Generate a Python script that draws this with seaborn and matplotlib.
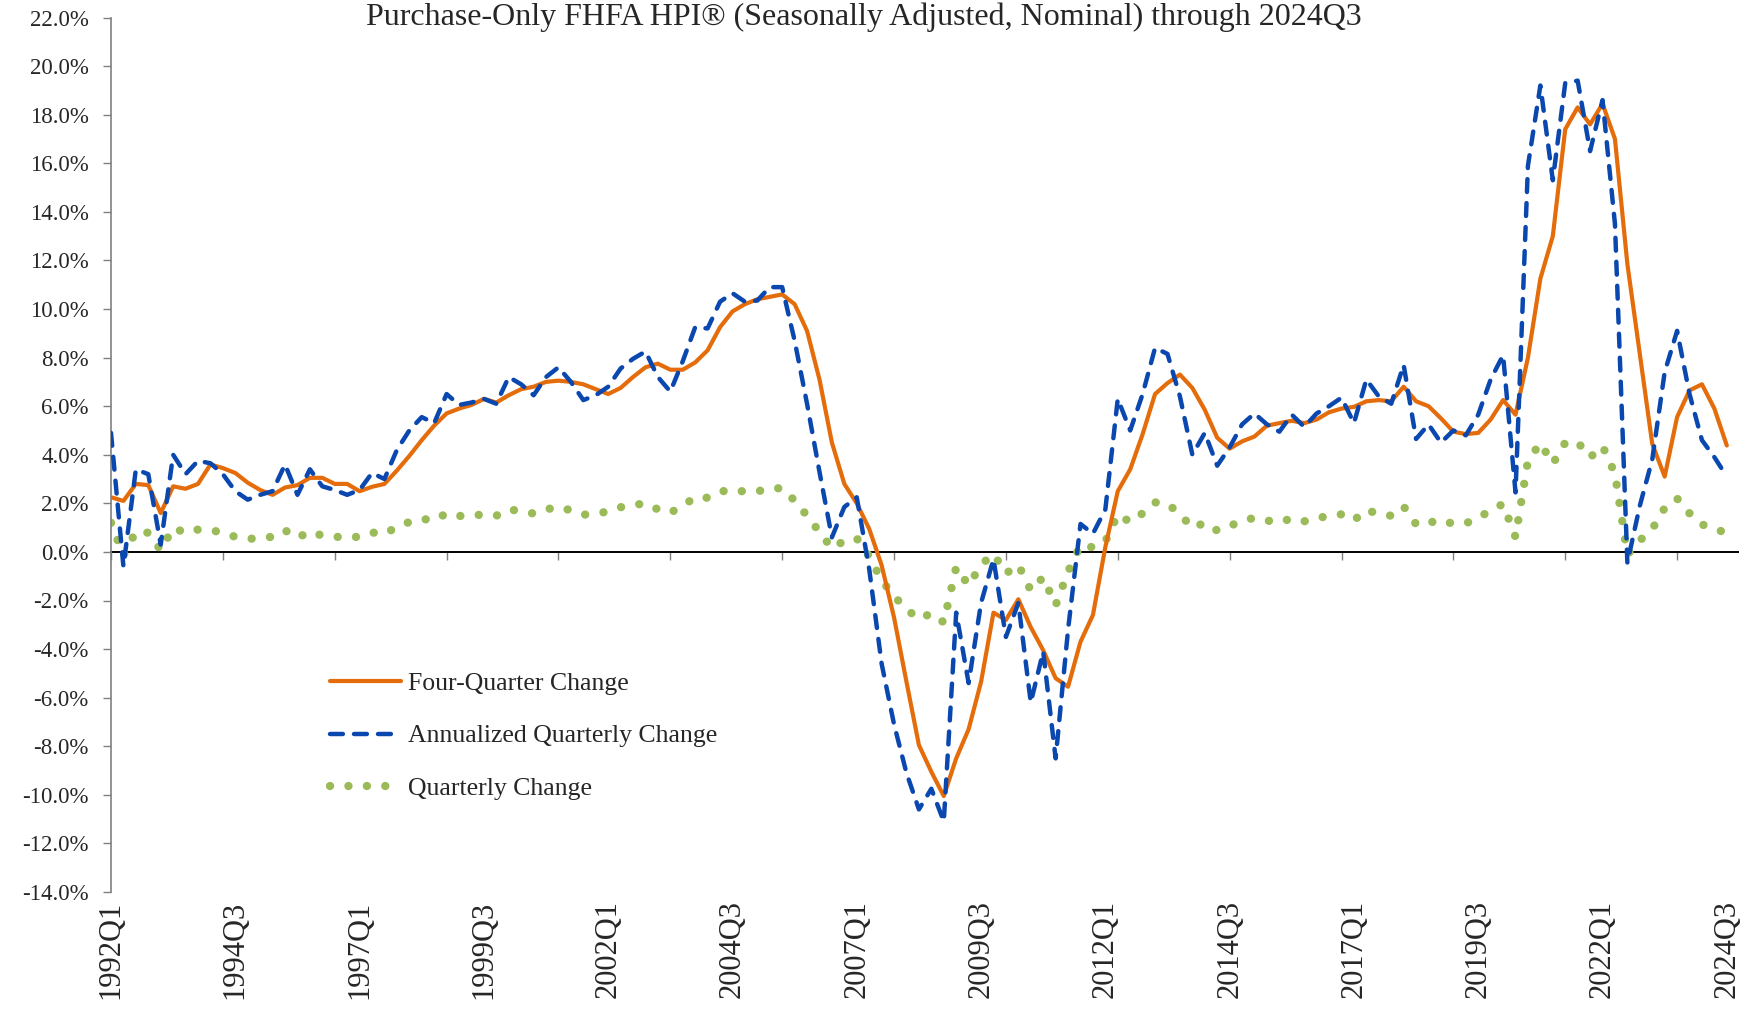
import numpy as np
import pandas as pd
import seaborn as sns
import matplotlib.pyplot as plt
from matplotlib.ticker import FuncFormatter

# quarters 1992Q1 .. 2024Q3
quarters = [f"{y}Q{q}" for y in range(1992, 2025) for q in range(1, 5)][:131]

# values in percent (one row per year)
four_quarter = [
    2.25, 2.1, 2.8, 2.75,
    1.6, 2.7, 2.6, 2.8,
    3.6, 3.45, 3.25, 2.85,
    2.55, 2.35, 2.65, 2.75,
    3.05, 3.05, 2.8, 2.8,
    2.5, 2.68, 2.8, 3.35,
    3.95, 4.6, 5.2, 5.7,
    5.9, 6.05, 6.3, 6.15,
    6.45, 6.7, 6.8, 7.0,
    7.05, 7.0, 6.9, 6.7,
    6.5, 6.75, 7.2, 7.6,
    7.75, 7.5, 7.5, 7.8,
    8.3, 9.25, 9.9, 10.2,
    10.4, 10.5, 10.6, 10.2,
    9.1, 7.1, 4.5, 2.8,
    2.0, 0.95, -0.55, -2.7,
    -5.35, -7.95, -9.05, -10.05,
    -8.5, -7.3, -5.35, -2.5,
    -2.8, -1.95, -3.1, -4.05,
    -5.2, -5.55, -3.7, -2.6,
    0.2, 2.5, 3.4, 4.85,
    6.5, 6.95, 7.3, 6.75,
    5.85, 4.7, 4.25, 4.55,
    4.75, 5.2, 5.3, 5.4,
    5.3, 5.45, 5.75, 5.9,
    5.97, 6.2, 6.25, 6.2,
    6.8, 6.2, 6.0, 5.5,
    4.95, 4.85, 4.9, 5.45,
    6.25, 5.65, 8.0, 11.25,
    13.0, 17.4, 18.3, 17.6,
    18.45, 17.0, 11.85, 8.15,
    4.45, 3.1, 5.55, 6.65,
    6.9, 5.9, 4.38,
]

annualized = [
    4.9, -0.6, 3.4, 3.2,
    0.3, 4.0, 3.2, 3.75,
    3.65, 3.2, 2.5, 2.15,
    2.35, 2.5, 3.6, 2.35,
    3.4, 2.7, 2.55, 2.35,
    2.55, 3.25, 3.0, 4.2,
    5.0, 5.55, 5.3, 6.5,
    6.05, 6.15, 6.3, 6.1,
    7.2, 6.9, 6.45, 7.2,
    7.6, 7.0, 6.25, 6.45,
    6.8, 7.55, 7.95, 8.25,
    7.2, 6.6, 7.85, 9.25,
    9.2, 10.3, 10.65, 10.3,
    10.35, 10.9, 10.9, 8.7,
    6.1, 3.3, 0.6, 1.85,
    2.25, -0.7, -4.6, -7.1,
    -9.1, -10.6, -9.75, -11.1,
    -2.5, -5.4, -2.1, -0.3,
    -3.5, -2.1, -6.2, -4.1,
    -8.5, -3.2, 1.15, 0.75,
    1.75, 6.3, 5.0, 6.5,
    8.4, 8.15, 6.4, 4.0,
    4.9, 3.55, 4.3, 5.25,
    5.7, 5.25, 4.95, 5.65,
    5.15, 5.7, 6.0, 6.35,
    5.3, 7.1, 6.4, 6.1,
    7.7, 4.65, 5.25, 4.5,
    5.0, 4.8, 5.65, 7.1,
    8.1, 2.45, 15.9, 19.2,
    15.3, 19.3, 19.4, 16.5,
    18.6, 13.5, -0.45, 1.9,
    3.8, 7.4, 9.1, 6.5,
    4.6, 3.9, 3.1,
]

quarterly = [
    1.2, -0.15, 0.84, 0.79,
    0.07, 0.99, 0.79, 0.92,
    0.9, 0.79, 0.62, 0.53,
    0.58, 0.62, 0.89, 0.58,
    0.84, 0.67, 0.63, 0.58,
    0.63, 0.8, 0.74, 1.03,
    1.23, 1.36, 1.3, 1.59,
    1.48, 1.5, 1.54, 1.49,
    1.75, 1.68, 1.58, 1.75,
    1.85, 1.71, 1.53, 1.58,
    1.66, 1.84, 1.93, 2.0,
    1.75, 1.61, 1.91, 2.24,
    2.23, 2.48, 2.56, 2.48,
    2.49, 2.62, 2.62, 2.11,
    1.49, 0.82, 0.15, 0.46,
    0.56, -0.18, -1.17, -1.82,
    -2.36, -2.76, -2.53, -2.9,
    -0.63, -1.38, -0.53, -0.08,
    -0.89, -0.53, -1.59, -1.04,
    -2.2, -0.81, 0.28, 0.19,
    0.43, 1.54, 1.23, 1.59,
    2.04, 1.98, 1.56, 0.99,
    1.2, 0.88, 1.06, 1.29,
    1.4, 1.29, 1.22, 1.38,
    1.26, 1.4, 1.47, 1.55,
    1.3, 1.73, 1.56, 1.49,
    1.87, 1.14, 1.29, 1.11,
    1.23, 1.18, 1.38, 1.73,
    1.97, 0.61, 3.76, 4.48,
    3.63, 4.5, 4.52, 3.89,
    4.36, 3.22, -0.11, 0.47,
    0.94, 1.81, 2.2, 1.59,
    1.13, 0.96, 0.77,
]

tick_labels = ["1992Q1", "1994Q3", "1997Q1", "1999Q3", "2002Q1", "2004Q3", "2007Q1",
               "2009Q3", "2012Q1", "2014Q3", "2017Q1", "2019Q3", "2022Q1", "2024Q3"]

df = pd.DataFrame({
    "idx": np.arange(len(quarters)),
    "quarter": quarters,
    "four": four_quarter,
    "ann": annualized,
    "qtr": quarterly,
})

sns.set_style("white")
plt.rcParams['font.family'] = ['Liberation Serif', 'DejaVu Serif']

fig = plt.figure(figsize=(17.52, 10.16), dpi=100)
ax = fig.add_axes([111 / 1752, 1 - 892 / 1016, (1738 - 111) / 1752, (892 - 17.5) / 1016])

sns.lineplot(data=df, x="idx", y="four", ax=ax, color="#E46C0A", lw=3.0,
             errorbar=None, label="Four-Quarter Change", solid_capstyle="round", zorder=3)
sns.lineplot(data=df, x="idx", y="ann", ax=ax, color="#0A47AF", lw=3.2,
             errorbar=None, label="Annualized Quarterly Change",
             linestyle=(0, (2.9, 2.5)), dash_capstyle="round", zorder=4)
sns.lineplot(data=df, x="idx", y="qtr", ax=ax, color="#9BBB59", lw=6.0,
             errorbar=None, label="Quarterly Change",
             linestyle=(0, (0.01, 2.2)), dash_capstyle="round", zorder=2)

ax.set_xlim(0, 130.9)
ax.set_ylim(-14, 22)
ax.set_yticks(np.arange(-14, 23, 2))
ax.yaxis.set_major_formatter(FuncFormatter(lambda v, p: f"{v:.1f}%"))
ax.tick_params(axis="y", direction="out", length=6, width=1, color="#808080",
               pad=10, labelsize=16.5, left=True)

# category labels along the bottom
ax.set_xticks([quarters.index(t) for t in tick_labels])
ax.set_xticklabels(tick_labels, rotation=90)
ax.tick_params(axis="x", length=0, pad=6, labelsize=22)
ax.set_xlabel("")
ax.set_ylabel("")

for s in ["top", "right", "bottom"]:
    ax.spines[s].set_visible(False)
ax.spines["left"].set_color("#808080")
ax.spines["left"].set_linewidth(1.2)

# zero line with its own tick marks
zero_pos = (0 - (-14)) / (22 - (-14))
sec = ax.secondary_xaxis(zero_pos)
sec.set_xticks(range(0, 131, 9))
sec.tick_params(axis="x", direction="out", length=6, width=1, color="#808080", labelbottom=False)
sec.spines["bottom"].set_color("black")
sec.spines["bottom"].set_linewidth(1.4)

fig.text(864 / 1752, 1 - 17 / 1016, "Purchase-Only FHFA HPI\u00ae (Seasonally Adjusted, Nominal) through 2024Q3",
         ha="center", va="center", fontsize=23)

ax.legend(loc="center left", bbox_to_anchor=(330 / 1752, 1 - 736 / 1016),
          bbox_transform=fig.transFigure, frameon=False, fontsize=18.5,
          handlelength=2.75, handletextpad=0.28, labelspacing=1.13,
          borderpad=0, borderaxespad=0)

fig.savefig("out.png", dpi=100)
